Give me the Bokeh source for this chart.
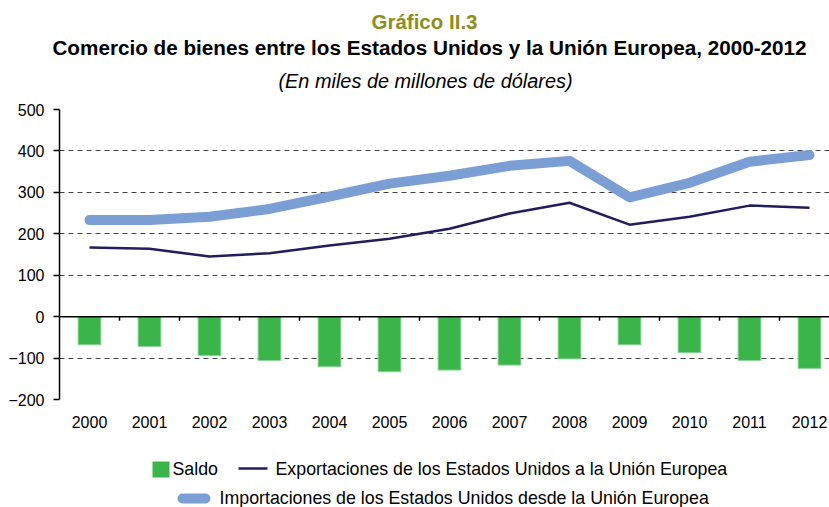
from bokeh.plotting import figure
from bokeh.models import Range1d, FixedTicker, Span
from bokeh.core.properties import value
from bokeh.embed import file_html
from bokeh.resources import INLINE

years = ["2000", "2001", "2002", "2003", "2004", "2005", "2006",
         "2007", "2008", "2009", "2010", "2011", "2012"]
saldo = [-68, -72, -94, -106, -121, -133, -129, -117, -102, -68, -87, -106, -125]
exportaciones = [167, 164, 145, 153, 172, 188, 212, 249, 275, 222, 241, 268, 263]
importaciones = [233, 233, 241, 260, 290, 321, 340, 364, 376, 288, 323, 374, 390]
y_ticks = [-200, -100, 0, 100, 200, 300, 400, 500]

W = 829
TOP_H, MAIN_H, LEG_H = 100, 340, 67
FL = 59
SLOT = 60.0
x_start = -0.5
x_end = x_start + (W - FL) / SLOT

GREEN = "#3bb54a"
IMP_C = "#7b9fd4"
EXP_C = "#221d5c"
FONT = "Liberation Sans"

def blank_fig(h):
    f = figure(width=W, height=h, output_backend="svg", toolbar_location=None,
               x_range=Range1d(0, W), y_range=Range1d(h, 0),
               x_axis_location=None, y_axis_location=None,
               min_border_left=0, min_border_right=0,
               min_border_top=0, min_border_bottom=0)
    f.outline_line_color = None
    f.xgrid.visible = False
    f.ygrid.visible = False
    return f

# ---------- titles ----------
top = blank_fig(TOP_H)
top.text(x=[424], y=[21], text=["Gráfico II.3"], text_align="center",
         text_baseline="middle", text_font=value(FONT), text_font_style="bold",
         text_font_size="20.5px", text_color="#8c8f1e")
top.text(x=[429], y=[47], text=["Comercio de bienes entre los Estados Unidos y la Unión Europea, 2000-2012"],
         text_align="center", text_baseline="middle",
         text_font=value(FONT), text_font_style="bold",
         text_font_size="20.7px", text_color="black")
top.text(x=[425], y=[80], text=["(En miles de millones de dólares)"], text_align="center",
         text_baseline="middle", text_font=value(FONT),
         text_font_style="italic", text_font_size="19.9px", text_color="black")

# ---------- main chart ----------
idx = list(range(len(years)))
p = figure(width=W, height=MAIN_H, output_backend="svg", toolbar_location=None,
           x_range=Range1d(x_start, x_end), y_range=Range1d(-200, 500),
           min_border_left=FL, min_border_right=0,
           min_border_top=9, min_border_bottom=41)
p.outline_line_color = None

p.xgrid.visible = False
p.ygrid.ticker = FixedTicker(ticks=[t for t in y_ticks if t != 0])
p.ygrid.grid_line_color = "#444444"
p.ygrid.grid_line_dash = "5 4"
p.ygrid.grid_line_width = 1

p.yaxis.ticker = FixedTicker(ticks=y_ticks)
p.yaxis.axis_line_color = "black"
p.yaxis.axis_line_width = 1.5
p.yaxis.major_tick_line_color = "black"
p.yaxis.major_tick_line_width = 1.5
p.yaxis.major_tick_out = 6
p.yaxis.major_tick_in = 0
p.yaxis.minor_tick_line_color = None
p.yaxis.major_label_text_font = FONT
p.yaxis.major_label_text_font_size = "16px"
p.yaxis.major_label_text_color = "black"
p.yaxis.major_label_standoff = 9

p.xaxis.ticker = FixedTicker(ticks=idx)
p.xaxis.major_label_overrides = {i: y for i, y in zip(idx, years)}
p.xaxis.axis_line_color = None
p.xaxis.major_tick_line_color = None
p.xaxis.minor_tick_line_color = None
p.xaxis.major_label_text_font = FONT
p.xaxis.major_label_text_font_size = "16px"
p.xaxis.major_label_text_color = "black"
p.xaxis.major_label_standoff = 10

p.vbar(x=idx, top=[0] * len(idx), bottom=saldo, width=0.38,
       fill_color=GREEN, line_color="#8ed39a", line_width=1)

p.add_layout(Span(location=0, dimension="width", line_color="black", line_width=1.5))
bounds = [i + 0.5 for i in idx]
p.segment(x0=bounds, x1=bounds, y0=[0] * len(bounds), y1=[-10] * len(bounds),
          line_color="black", line_width=1.5)

p.line(idx, importaciones, line_color=IMP_C, line_width=10,
       line_cap="round", line_join="round")
p.line(idx, exportaciones, line_color=EXP_C, line_width=2.5, line_join="round")

# ---------- legend (strip starts at page y = 440) ----------
leg = blank_fig(LEG_H)
leg.rect(x=[160.5], y=[29], width=17, height=16, fill_color=GREEN, line_color=None)
leg.text(x=[172], y=[28.5], text=["Saldo"], text_align="left", text_baseline="middle",
         text_font=value(FONT), text_font_size="17.8px", text_color="black")
leg.line(x=[238, 267], y=[28, 28], line_color=EXP_C, line_width=2.5)
leg.text(x=[275], y=[28.5], text=["Exportaciones de los Estados Unidos a la Unión Europea"],
         text_align="left", text_baseline="middle",
         text_font=value(FONT), text_font_size="17.8px", text_color="black")
leg.line(x=[182, 205], y=[58, 58], line_color=IMP_C, line_width=10, line_cap="round")
leg.text(x=[219], y=[57.5], text=["Importaciones de los Estados Unidos desde la Unión Europea"],
         text_align="left", text_baseline="middle",
         text_font=value(FONT), text_font_size="17.8px", text_color="black")

open("out.html", "w").write(file_html([top, p, leg], INLINE))
